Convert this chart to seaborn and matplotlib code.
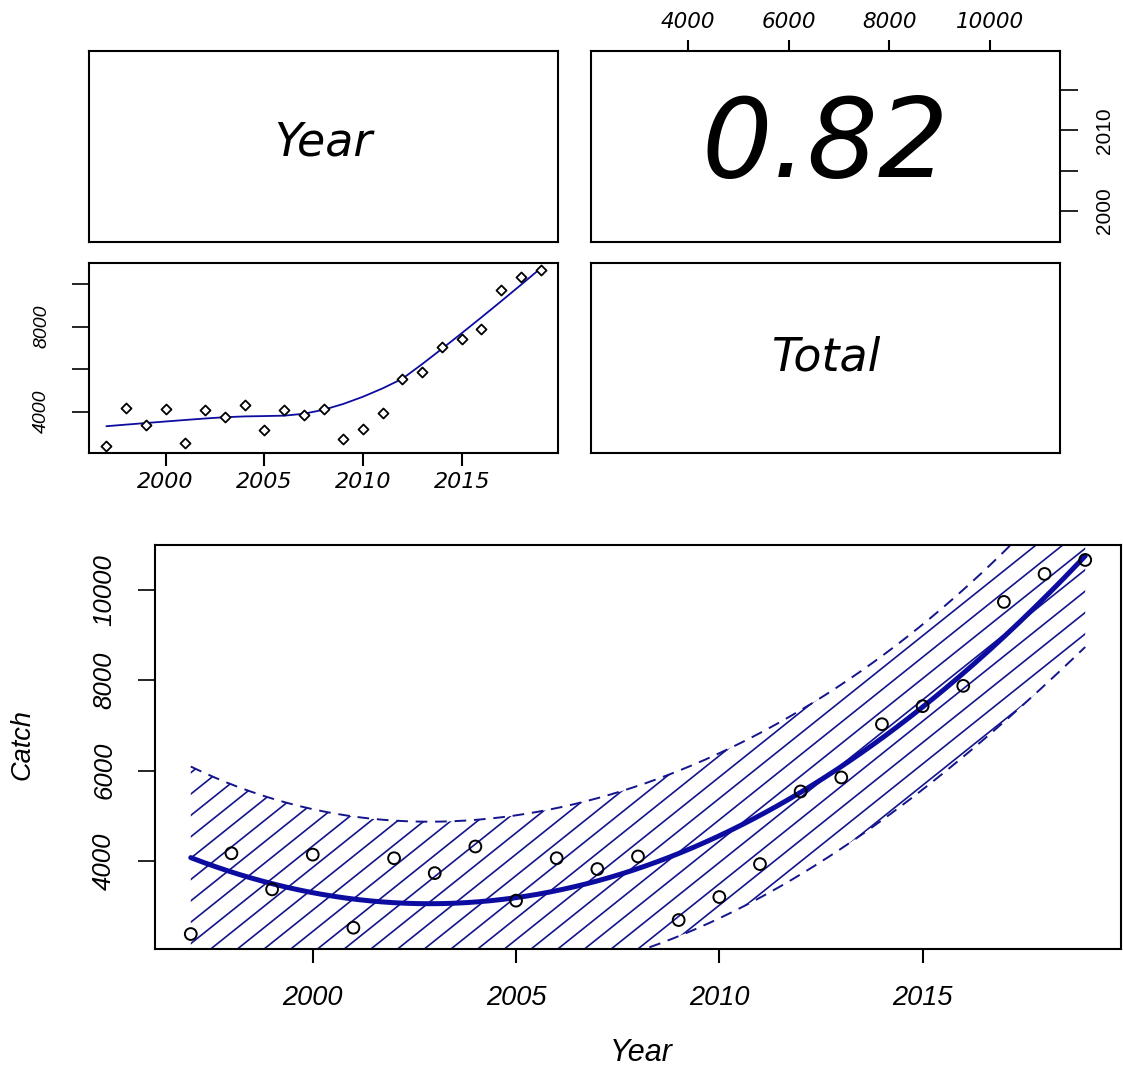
import numpy as np
import pandas as pd
import matplotlib
matplotlib.use("Agg")
import matplotlib.pyplot as plt
import seaborn as sns
from matplotlib.collections import LineCollection
from matplotlib.patches import PathPatch

# ---- data -------------------------------------------------------------
years = [1997, 1998, 1999, 2000, 2001, 2002, 2003, 2004, 2005, 2006, 2007, 2008,
         2009, 2010, 2011, 2012, 2013, 2014, 2015, 2016, 2017, 2018, 2019]
catch = [2380, 4170, 3370, 4140, 2520, 4060, 3730, 4320, 3120, 4060, 3820, 4100,
         2690, 3200, 3930, 5540, 5850, 7030, 7430, 7880, 9740, 10360, 10670]
corr_label = "0.82"
var_names = ["Year", "Total"]
x_ticks = [2000, 2005, 2010, 2015]
y_ticks = [4000, 6000, 8000, 10000]
y_ticks_small = ["4000", "", "8000", ""]
year_ticks_right = [2000, 2005, 2010, 2015]
year_labels_right = ["2000", "", "2010", ""]

df = pd.DataFrame({"Year": years, "Catch": catch})

# ---- styling ----------------------------------------------------------
sns.set_style("white")
plt.rcParams["font.family"] = ["Liberation Sans", "DejaVu Sans"]
plt.rcParams["font.style"] = "italic"
plt.rcParams["axes.linewidth"] = 1.5
plt.rcParams["axes.edgecolor"] = "black"
plt.rcParams["text.color"] = "black"
plt.rcParams["axes.labelcolor"] = "black"
plt.rcParams["xtick.color"] = "black"
plt.rcParams["ytick.color"] = "black"

NAVY = "#14148c"
FIT = "#0c0ca0"
WIDE = ["DejaVu Sans"]
NARROW = ["Liberation Sans", "DejaVu Sans"]


def padded(v, frac=0.04):
    lo, hi = float(np.min(v)), float(np.max(v))
    d = (hi - lo) * frac
    return lo - d, hi + d


def lowess(x, y, f=2 / 3, iters=3):
    x = np.asarray(x, float)
    y = np.asarray(y, float)
    n = len(x)
    ns = max(min(int(f * n + 1e-7), n), 2)
    rw = np.ones(n)
    yfit = np.zeros(n)
    for _ in range(iters + 1):
        for i in range(n):
            d = np.abs(x - x[i])
            h = np.sort(d)[ns - 1]
            u = np.clip(d / h, 0, 1)
            w = (1 - u ** 3) ** 3
            w[d <= 0.001 * h] = 1.0
            w[d > 0.999 * h] = 0.0
            w = w * rw
            xc = x - x[i]
            sw = w.sum()
            xm = (w * xc).sum() / sw
            ym = (w * y).sum() / sw
            sxx = (w * (xc - xm) ** 2).sum()
            b = (w * (xc - xm) * (y - ym)).sum() / sxx if sxx > 0 else 0.0
            yfit[i] = ym + b * (0 - xm)
        res = y - yfit
        cmad = 6 * np.median(np.abs(res))
        r = np.clip(res / cmad, -1, 1)
        rw = (1 - r ** 2) ** 2
    return yfit


def style_labels(labels, family, style, size):
    for lbl in labels:
        lbl.set_family(family)
        lbl.set_style(style)
        lbl.set_fontsize(size)


xlim = padded(years)
ylim = padded(catch)

fig = plt.figure(figsize=(11.23, 10.70), dpi=100)
W, H = 1123, 1070


def add_axes_px(x0, y0, x1, y1):
    return fig.add_axes([x0 / W, 1 - y1 / H, (x1 - x0) / W, (y1 - y0) / H])


ax_tl = add_axes_px(89, 51, 558, 242)
ax_tr = add_axes_px(591, 51, 1060, 242)
ax_ml = add_axes_px(89, 263, 558, 453)
ax_mr = add_axes_px(591, 263, 1060, 453)
ax_b = add_axes_px(155, 545, 1121, 949)

for a in (ax_tl, ax_tr, ax_ml, ax_mr, ax_b):
    for s in a.spines.values():
        s.set_visible(True)
        s.set_color("black")
        s.set_linewidth(1.5)
    a.set_xticks([])
    a.set_yticks([])

# ---- diagonal name panels --------------------------------------------
ax_tl.text(0.5, 0.52, var_names[0], transform=ax_tl.transAxes, ha="center",
           va="center", fontsize=33, family=WIDE, style="oblique")
ax_mr.text(0.5, 0.5, var_names[1], transform=ax_mr.transAxes, ha="center",
           va="center", fontsize=33, family=WIDE, style="oblique")

# ---- correlation panel -----------------------------------------------
ax_tr.text(0.5, 0.5, corr_label, transform=ax_tr.transAxes, ha="center",
           va="center", fontsize=80, family=WIDE, style="oblique")
ax_tr.set_xlim(2070, 11400)
ax_tr.set_ylim(*xlim)
ax_tr.xaxis.tick_top()
ax_tr.yaxis.tick_right()
ax_tr.set_xticks(y_ticks)
ax_tr.set_xticklabels([str(t) for t in y_ticks])
ax_tr.set_yticks(year_ticks_right)
ax_tr.set_yticklabels(year_labels_right, rotation=90, va="center")
ax_tr.tick_params(axis="x", top=True, bottom=False, length=8, width=1.5,
                  pad=6, direction="out")
ax_tr.tick_params(axis="y", right=True, left=False, length=13, width=1.2,
                  pad=12, direction="out")
style_labels(ax_tr.get_xticklabels(), WIDE, "oblique", 15.5)
style_labels(ax_tr.get_yticklabels(), NARROW, "normal", 15)

# ---- scatter with smoother -------------------------------------------
sm = lowess(years, catch)
sns.lineplot(x=years, y=sm, ax=ax_ml, color=FIT, linewidth=1.3,
             estimator=None, sort=True)
sns.scatterplot(x="Year", y="Catch", data=df, ax=ax_ml, marker="D", s=26,
                facecolor="white", edgecolor="black", linewidth=1.3, zorder=3)
ax_ml.set_xlim(*xlim)
ax_ml.set_ylim(*ylim)
ax_ml.set_xlabel("")
ax_ml.set_ylabel("")
ax_ml.set_xticks(x_ticks)
ax_ml.set_xticklabels([str(t) for t in x_ticks])
ax_ml.set_yticks(y_ticks)
ax_ml.set_yticklabels(y_ticks_small, rotation=90, va="center")
ax_ml.tick_params(axis="x", bottom=True, length=9, width=1.5, pad=5,
                  direction="out")
ax_ml.tick_params(axis="y", left=True, length=12, width=1.2, pad=16,
                  direction="out")
style_labels(ax_ml.get_xticklabels(), WIDE, "oblique", 16)
style_labels(ax_ml.get_yticklabels(), NARROW, "italic", 14)

# ---- quadratic fit with prediction band ------------------------------
xv = np.asarray(years, float)
yv = np.asarray(catch, float)
xm = xv.mean()
X = np.column_stack([np.ones_like(xv), xv - xm, (xv - xm) ** 2])
beta, *_ = np.linalg.lstsq(X, yv, rcond=None)
resid = yv - X @ beta
dof = len(xv) - X.shape[1]
s2 = (resid ** 2).sum() / dof
XtX_inv = np.linalg.inv(X.T @ X)
T975 = 2.086  # t quantile, 20 degrees of freedom

grid = np.linspace(xv.min(), xv.max(), 300)
G = np.column_stack([np.ones_like(grid), grid - xm, (grid - xm) ** 2])
fit = G @ beta
se = np.sqrt(s2 * (1 + np.einsum("ij,jk,ik->i", G, XtX_inv, G)))
upper = fit + T975 * se
lower = fit - T975 * se

ax_b.set_xlim(*xlim)
ax_b.set_ylim(*ylim)

band = ax_b.fill_between(grid, lower, upper, facecolor="none",
                         edgecolor="none")
clip_patch = PathPatch(band.get_paths()[0], transform=ax_b.transData,
                       facecolor="none", edgecolor="none")
ax_b.add_patch(clip_patch)

# diagonal shading lines inside the band
aw_px = 966.0
ah_px = 404.0
slope_px = 0.8
spacing_px = 26.7
run = ah_px / (slope_px * aw_px)  # axes-fraction x travel over full height
step = spacing_px / aw_px
starts = np.arange(-run - step, 1.0 + step, step)
segs = [[(x0, 0.0), (x0 + run, 1.0)] for x0 in starts]
hatch = LineCollection(segs, transform=ax_b.transAxes, colors=NAVY,
                       linewidths=1.2)
ax_b.add_collection(hatch, autolim=False)
hatch.set_clip_path(clip_patch)

sns.lineplot(x=grid, y=upper, ax=ax_b, color=NAVY, linewidth=1.4,
             estimator=None, sort=False)
sns.lineplot(x=grid, y=lower, ax=ax_b, color=NAVY, linewidth=1.4,
             estimator=None, sort=False)
for ln in ax_b.lines:
    ln.set_dashes((6, 4))
sns.lineplot(x=grid, y=fit, ax=ax_b, color=FIT, linewidth=3.6,
             estimator=None, sort=False)
sns.scatterplot(x="Year", y="Catch", data=df, ax=ax_b, marker="o", s=72,
                facecolor="none", edgecolor="black", linewidth=1.4, zorder=4)

ax_b.set_xlim(*xlim)
ax_b.set_ylim(*ylim)
ax_b.set_xlabel("")
ax_b.set_ylabel("")
ax_b.set_xticks(x_ticks)
ax_b.set_xticklabels([str(t) for t in x_ticks])
ax_b.set_yticks(y_ticks)
ax_b.set_yticklabels([str(t) for t in y_ticks], rotation=90, va="center")
ax_b.tick_params(axis="x", bottom=True, length=10, width=1.5, pad=16,
                 direction="out")
ax_b.tick_params(axis="y", left=True, length=12, width=1.2, pad=16,
                 direction="out")
style_labels(ax_b.get_xticklabels(), NARROW, "italic", 19.5)
style_labels(ax_b.get_yticklabels(), NARROW, "italic", 18.5)

# axis titles of the fitted-curve panel
fig.text(641 / W, 1 - 1053 / H, "Year", ha="center", va="center",
         fontsize=22, family=NARROW, style="italic")
fig.text(23 / W, 1 - 745 / H, "Catch", ha="center", va="center",
         rotation=90, fontsize=19.5, family=NARROW, style="italic")

fig.savefig("out.png", dpi=100, facecolor="white")
